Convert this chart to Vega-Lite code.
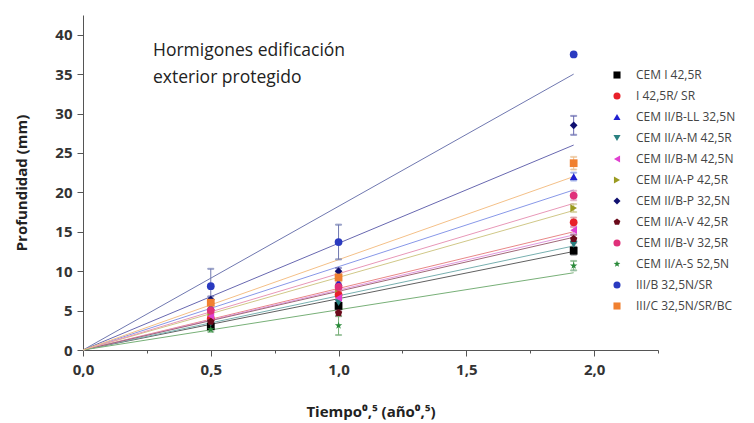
{
  "$schema": "https://vega.github.io/schema/vega-lite/v6.json",
  "width": 575,
  "height": 335,
  "autosize": {"type": "none"},
  "padding": {"left": 83, "top": 15, "right": 96, "bottom": 73},
  "background": "white",
  "config": {
    "view": {"stroke": null},
    "font": "Open Sans"
  },
  "title": {
    "text": ["Hormigones edificación", "exterior protegido"],
    "anchor": "start", "frame": "group", "orient": "top", "baseline": "top",
    "offset": 0, "dx": 70, "dy": 71, "fontSize": 17.5, "fontWeight": 500,
    "font": "Open Sans", "lineHeight": 27, "color": "#222"
  },
  "datasets": {
    "points": [
      {"series": "CEM I 42,5R", "x": 0.5, "y": 3.0, "err": 0.3},
      {"series": "CEM I 42,5R", "x": 1.0, "y": 5.6, "err": 0.4},
      {"series": "CEM I 42,5R", "x": 1.92, "y": 12.6, "err": 0.5},
      {"series": "I 42,5R/ SR", "x": 0.5, "y": 4.0, "err": 0.3},
      {"series": "I 42,5R/ SR", "x": 1.0, "y": 7.0, "err": 0.4},
      {"series": "I 42,5R/ SR", "x": 1.92, "y": 16.2, "err": 0.6},
      {"series": "CEM II/B-LL 32,5N", "x": 0.5, "y": 5.5, "err": 0.4},
      {"series": "CEM II/B-LL 32,5N", "x": 1.0, "y": 8.6, "err": 0.4},
      {"series": "CEM II/B-LL 32,5N", "x": 1.92, "y": 22.0, "err": 0.5},
      {"series": "CEM II/A-M 42,5R", "x": 0.5, "y": 3.4, "err": 0.3},
      {"series": "CEM II/A-M 42,5R", "x": 1.0, "y": 6.0, "err": 0.4},
      {"series": "CEM II/A-M 42,5R", "x": 1.92, "y": 13.4, "err": 0.5},
      {"series": "CEM II/B-M 42,5N", "x": 0.5, "y": 4.3, "err": 0.3},
      {"series": "CEM II/B-M 42,5N", "x": 1.0, "y": 6.6, "err": 0.4},
      {"series": "CEM II/B-M 42,5N", "x": 1.92, "y": 15.2, "err": 0.5},
      {"series": "CEM II/A-P 42,5R", "x": 0.5, "y": 4.8, "err": 0.3},
      {"series": "CEM II/A-P 42,5R", "x": 1.0, "y": 7.8, "err": 0.4},
      {"series": "CEM II/A-P 42,5R", "x": 1.92, "y": 18.0, "err": 0.5},
      {"series": "CEM II/B-P 32,5N", "x": 0.5, "y": 6.4, "err": 0.4},
      {"series": "CEM II/B-P 32,5N", "x": 1.0, "y": 10.0, "err": 0.4},
      {"series": "CEM II/B-P 32,5N", "x": 1.92, "y": 28.5, "err": 1.2},
      {"series": "CEM II/A-V 42,5R", "x": 0.5, "y": 3.6, "err": 0.3},
      {"series": "CEM II/A-V 42,5R", "x": 1.0, "y": 4.7, "err": 0.4},
      {"series": "CEM II/A-V 42,5R", "x": 1.92, "y": 14.1, "err": 0.5},
      {"series": "CEM II/B-V 32,5R", "x": 0.5, "y": 5.0, "err": 0.3},
      {"series": "CEM II/B-V 32,5R", "x": 1.0, "y": 8.0, "err": 0.4},
      {"series": "CEM II/B-V 32,5R", "x": 1.92, "y": 19.6, "err": 0.6},
      {"series": "CEM II/A-S 52,5N", "x": 0.5, "y": 2.6, "err": 0.3},
      {"series": "CEM II/A-S 52,5N", "x": 1.0, "y": 3.1, "err": 1.2},
      {"series": "CEM II/A-S 52,5N", "x": 1.92, "y": 10.7, "err": 0.6},
      {"series": "III/B 32,5N/SR", "x": 0.5, "y": 8.1, "err": 2.2},
      {"series": "III/B 32,5N/SR", "x": 1.0, "y": 13.7, "err": 2.2},
      {"series": "III/B 32,5N/SR", "x": 1.92, "y": 37.5, "err": 0},
      {"series": "III/C 32,5N/SR/BC", "x": 0.5, "y": 6.0, "err": 0.4},
      {"series": "III/C 32,5N/SR/BC", "x": 1.0, "y": 9.2, "err": 0.6},
      {"series": "III/C 32,5N/SR/BC", "x": 1.92, "y": 23.7, "err": 0.8}
    ],
    "lines": [
      {"series": "CEM I 42,5R", "x": 0, "y": 0}, {"series": "CEM I 42,5R", "x": 1.92, "y": 12.5},
      {"series": "I 42,5R/ SR", "x": 0, "y": 0}, {"series": "I 42,5R/ SR", "x": 1.92, "y": 15.0},
      {"series": "CEM II/B-LL 32,5N", "x": 0, "y": 0}, {"series": "CEM II/B-LL 32,5N", "x": 1.92, "y": 20.3},
      {"series": "CEM II/A-M 42,5R", "x": 0, "y": 0}, {"series": "CEM II/A-M 42,5R", "x": 1.92, "y": 13.2},
      {"series": "CEM II/B-M 42,5N", "x": 0, "y": 0}, {"series": "CEM II/B-M 42,5N", "x": 1.92, "y": 14.6},
      {"series": "CEM II/A-P 42,5R", "x": 0, "y": 0}, {"series": "CEM II/A-P 42,5R", "x": 1.92, "y": 17.7},
      {"series": "CEM II/B-P 32,5N", "x": 0, "y": 0}, {"series": "CEM II/B-P 32,5N", "x": 1.92, "y": 26.0},
      {"series": "CEM II/A-V 42,5R", "x": 0, "y": 0}, {"series": "CEM II/A-V 42,5R", "x": 1.92, "y": 14.3},
      {"series": "CEM II/B-V 32,5R", "x": 0, "y": 0}, {"series": "CEM II/B-V 32,5R", "x": 1.92, "y": 18.6},
      {"series": "CEM II/A-S 52,5N", "x": 0, "y": 0}, {"series": "CEM II/A-S 52,5N", "x": 1.92, "y": 9.8},
      {"series": "III/B 32,5N/SR", "x": 0, "y": 0}, {"series": "III/B 32,5N/SR", "x": 1.92, "y": 35.0},
      {"series": "III/C 32,5N/SR/BC", "x": 0, "y": 0}, {"series": "III/C 32,5N/SR/BC", "x": 1.92, "y": 22.0}
    ]
  },
  "layer": [
    {
      "data": {"name": "lines"},
      "mark": {"type": "line", "strokeWidth": 1, "clip": false},
      "encoding": {
        "x": {"field": "x", "type": "quantitative", "title": "Tiempo⁰,⁵ (año⁰,⁵)"},
        "y": {"field": "y", "type": "quantitative", "title": "Profundidad (mm)"},
        "detail": {"field": "series"},
        "stroke": {
          "field": "series", "type": "nominal", "legend": null,
          "scale": {
            "domain": ["III/C 32,5N/SR/BC", "III/B 32,5N/SR", "CEM II/A-S 52,5N", "CEM II/B-V 32,5R", "CEM II/A-V 42,5R", "CEM II/B-P 32,5N", "CEM II/A-P 42,5R", "CEM II/B-M 42,5N", "CEM II/A-M 42,5R", "CEM II/B-LL 32,5N", "I 42,5R/ SR", "CEM I 42,5R"],
            "range": ["#f4c088", "#7078b0", "#78b078", "#e898b8", "#a06878", "#6868b0", "#d0c888", "#e098e0", "#78b0b0", "#8898e8", "#e88888", "#606060"]
          }
        }
      }
    },
    {
      "data": {"name": "points"},
      "mark": {"type": "errorbar", "ticks": {"size": 6}, "thickness": 1},
      "encoding": {
        "x": {"field": "x", "type": "quantitative", "title": "Tiempo⁰,⁵ (año⁰,⁵)"},
        "y": {"field": "y", "type": "quantitative", "title": "Profundidad (mm)"},
        "yError": {"field": "err"},
        "stroke": {"field": "series", "type": "nominal", "legend": null}
      }
    },
    {
      "data": {"name": "points"},
      "mark": {"type": "point", "filled": true, "opacity": 1, "size": 60},
      "encoding": {
        "x": {
          "field": "x", "type": "quantitative",
          "scale": {"domain": [0, 2.25], "nice": false},
          "axis": {
            "title": "Tiempo⁰,⁵ (año⁰,⁵)",
            "values": [0, 0.25, 0.5, 0.75, 1, 1.25, 1.5, 1.75, 2, 2.25],
            "labelExpr": "(datum.value * 2) % 1 == 0 ? replace(format(datum.value, '.1f'), '.', ',') : ''",
            "tickSize": {"condition": {"test": "(datum.value * 2) % 1 == 0", "value": 6}, "value": 3},
            "grid": false, "domainColor": "#555", "tickColor": "#555",
            "labelFont": "Open Sans", "labelFontSize": 15, "labelFontWeight": "bold", "labelColor": "#333",
            "labelPadding": 6, "labelFlush": false,
            "titleFont": "Open Sans", "titleFontSize": 15, "titleFontWeight": "bold", "titleColor": "#222",
            "titlePadding": 27
          }
        },
        "y": {
          "field": "y", "type": "quantitative",
          "scale": {"domain": [0, 42.5], "nice": false},
          "axis": {
            "title": "Profundidad (mm)",
            "values": [0, 2.5, 5, 7.5, 10, 12.5, 15, 17.5, 20, 22.5, 25, 27.5, 30, 32.5, 35, 37.5, 40, 42.5],
            "labelExpr": "datum.value % 5 == 0 ? format(datum.value, 'd') : ''",
            "tickSize": {"condition": {"test": "datum.value % 5 == 0", "value": 6}, "value": 3},
            "grid": false, "domainColor": "#555", "tickColor": "#555",
            "labelFont": "Open Sans", "labelFontSize": 15, "labelFontWeight": "bold", "labelColor": "#333",
            "labelPadding": 5, "labelFlush": false,
            "titleFont": "Open Sans", "titleFontSize": 15, "titleFontWeight": "bold", "titleColor": "#222",
            "titlePadding": 25
          }
        },
        "color": {
          "field": "series", "type": "nominal",
          "scale": {
            "domain": ["CEM I 42,5R", "I 42,5R/ SR", "CEM II/B-LL 32,5N", "CEM II/A-M 42,5R", "CEM II/B-M 42,5N", "CEM II/A-P 42,5R", "CEM II/B-P 32,5N", "CEM II/A-V 42,5R", "CEM II/B-V 32,5R", "CEM II/A-S 52,5N", "III/B 32,5N/SR", "III/C 32,5N/SR/BC"],
            "range": ["#000000", "#e8202a", "#1f1fd0", "#2a8080", "#e040d0", "#9a9a20", "#101070", "#6a0a1a", "#e0307a", "#2a8a3a", "#2a3ac0", "#f08030"]
          },
          "legend": {
            "title": null, "orient": "none", "legendX": 528, "legendY": 54,
            "labelFont": "Open Sans", "labelFontSize": 12, "labelColor": "#444",
            "symbolSize": 50, "rowPadding": 9, "labelOffset": 13, "padding": 0
          }
        },
        "shape": {
          "field": "series", "type": "nominal",
          "scale": {
            "domain": ["CEM I 42,5R", "I 42,5R/ SR", "CEM II/B-LL 32,5N", "CEM II/A-M 42,5R", "CEM II/B-M 42,5N", "CEM II/A-P 42,5R", "CEM II/B-P 32,5N", "CEM II/A-V 42,5R", "CEM II/B-V 32,5R", "CEM II/A-S 52,5N", "III/B 32,5N/SR", "III/C 32,5N/SR/BC"],
            "range": ["square", "circle", "triangle-up", "triangle-down", "triangle-left", "triangle-right", "diamond", "M0,-1L0.951,-0.309L0.588,0.809L-0.588,0.809L-0.951,-0.309Z", "circle", "M0,-1L0.235,-0.324L0.951,-0.309L0.38,0.124L0.588,0.809L0,0.4L-0.588,0.809L-0.38,0.124L-0.951,-0.309L-0.235,-0.324Z", "circle", "square"]
          },
          "legend": {
            "title": null, "orient": "none", "legendX": 528, "legendY": 54,
            "labelFont": "Open Sans", "labelFontSize": 12, "labelColor": "#444",
            "symbolSize": 50, "rowPadding": 9, "labelOffset": 13, "padding": 0
          }
        }
      }
    }
  ]
}
